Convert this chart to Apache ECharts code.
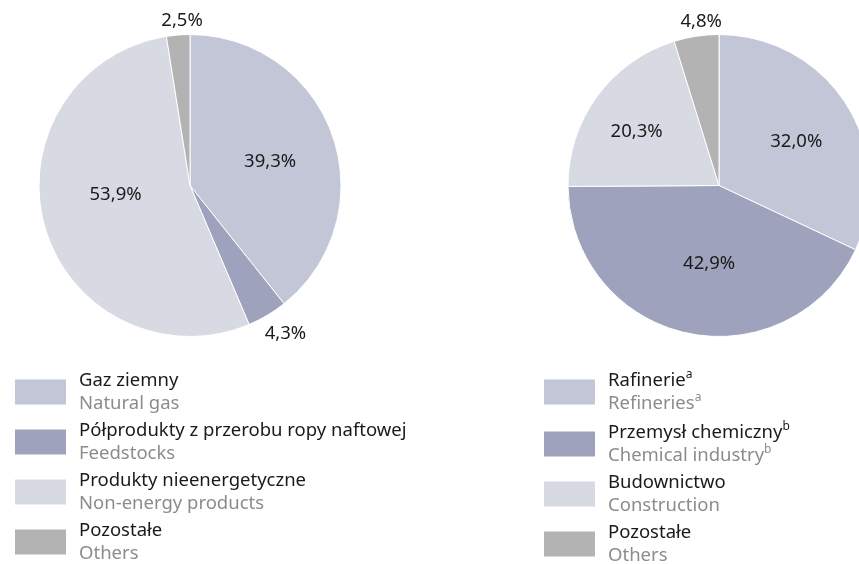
<!DOCTYPE html>
<html>
<head>
<meta charset="utf-8">
<title>Struktura</title>
<script src="https://cdn.jsdelivr.net/npm/echarts@6/dist/echarts.min.js"></script>
<style>
  html, body { margin: 0; padding: 0; background: #fff; }
  #chart { width: 859px; height: 564px; }
</style>
</head>
<body>
<div id="chart"></div>
<script>
// dane - lewy wykres
const leftNames = ["Gaz ziemny", "Półprodukty z przerobu ropy naftowej", "Produkty nieenergetyczne", "Pozostałe"];
const leftNamesEn = ["Natural gas", "Feedstocks", "Non-energy products", "Others"];
const leftValues = [39.3, 4.3, 53.9, 2.5];

// dane - prawy wykres
const rightNames = ["Rafinerie", "Przemysł chemiczny", "Budownictwo", "Pozostałe"];
const rightNamesEn = ["Refineries", "Chemical industry", "Construction", "Others"];
const rightNotes = ["a", "b", "", ""];
const rightValues = [32.0, 42.9, 20.3, 4.8];

const colors = ["#c3c6d7", "#9ea2bc", "#d7d9e3", "#b3b3b3"];

// przesunięcia etykiet (dx, dy) względem pozycji domyślnej
const labelShift = [
  [[6, 2], [11, 6], [1, -12], [5, 0]],
  [[11, -2], [7, 2], [-19, -7], [7, -1]],
];

function fmt(v) {
  return v.toFixed(1).replace(".", ",") + "%";
}

function pieData(names, values) {
  return names.map(function (n, i) {
    return {
      name: n,
      value: values[i],
      itemStyle: { color: colors[i] },
      label: { position: values[i] < 5 ? "outside" : "inside" },
    };
  });
}

const enMap = {};
const noteMap = {};
leftNames.forEach(function (n, i) { enMap[n] = leftNamesEn[i]; noteMap[n] = ""; });
rightNames.forEach(function (n, i) { enMap[n] = rightNamesEn[i]; noteMap[n] = rightNotes[i]; });

function legendFormatter(name) {
  const note = noteMap[name];
  if (note) {
    return "{pl|" + name + "}{plSup|" + note + "}\n{en|" + enMap[name] + "}{enSup|" + note + "}";
  }
  return "{pl|" + name + "}\n{en|" + enMap[name] + "}";
}

const legendText = {
  fontFamily: "Noto Sans",
  padding: [0, 0, 0, 7],
  rich: {
    pl: { fontSize: 18.5, color: "#1a1a1a", lineHeight: 23, fontFamily: "Noto Sans" },
    plSup: { fontSize: 12, color: "#1a1a1a", lineHeight: 10, verticalAlign: "top", fontFamily: "Noto Sans" },
    en: { fontSize: 18.5, color: "#8c8c8c", lineHeight: 23, fontFamily: "Noto Sans" },
    enSup: { fontSize: 12, color: "#8c8c8c", lineHeight: 10, verticalAlign: "top", fontFamily: "Noto Sans" },
  },
};

function legendBlock(names, left, top) {
  return {
    data: names,
    orient: "vertical",
    left: left,
    top: top,
    width: 300,
    height: 220,
    padding: 0,
    itemWidth: 53,
    itemHeight: 27,
    itemGap: 8,
    icon: "rect",
    selectedMode: false,
    formatter: legendFormatter,
    textStyle: legendText,
  };
}

function pieSeries(data, center) {
  return {
    type: "pie",
    center: center,
    radius: 151,
    startAngle: 90,
    clockwise: true,
    silent: true,
    data: data,
    itemStyle: { borderColor: "#ffffff", borderWidth: 1 },
    label: {
      show: true,
      fontFamily: "Noto Sans",
      fontSize: 18.5,
      color: "#1a1a1a",
      distanceToLabelLine: 0,
      formatter: function (p) { return fmt(p.value); },
    },
    labelLine: { show: false, length: 14, length2: 0 },
    labelLayout: function (p) {
      const s = labelShift[p.seriesIndex][p.dataIndex];
      return { dx: s[0], dy: s[1], align: "center", verticalAlign: "middle" };
    },
    emphasis: { disabled: true },
  };
}

const chart = echarts.init(document.getElementById("chart"), null, { renderer: "canvas" });
chart.setOption({
  animation: false,
  backgroundColor: "#ffffff",
  legend: [legendBlock(leftNames, 13, 371), legendBlock(rightNames, 542, 369)],
  series: [
    pieSeries(pieData(leftNames, leftValues), [190, 185.5]),
    pieSeries(pieData(rightNames, rightValues), [719, 185.5]),
  ],
});
</script>
</body>
</html>
